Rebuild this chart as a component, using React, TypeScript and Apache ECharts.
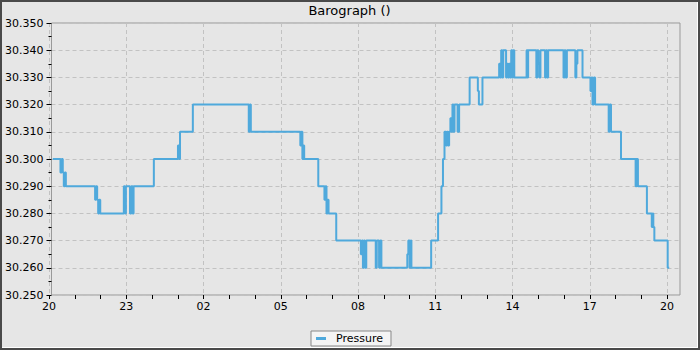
import React, { useEffect, useRef } from "react";
import * as echarts from "echarts";

// Hours elapsed since 20:00 on the first day
const hours = [
  0.05, 0.35, 0.40, 0.44, 0.48, 0.52, 0.56,
  1.70, 1.74, 1.78, 1.82, 1.86, 1.90,
  2.82, 2.86, 2.90, 3.06, 3.11, 3.16, 3.20,
  3.99, 4.93, 4.97, 5.01, 5.51,
  7.69, 7.73, 7.77,
  9.70, 9.74, 9.78, 9.82, 9.85,
  10.40, 10.64, 10.68, 10.72, 10.76, 10.80, 11.10,
  12.06, 12.10, 12.14, 12.18, 12.22, 12.27,
  12.64, 12.68, 12.77, 12.82, 12.86,
  13.87, 13.91, 13.96, 14.00, 14.03,
  14.80, 15.07, 15.20, 15.26, 15.32, 15.38, 15.42, 15.46, 15.50,
  15.55, 15.59, 15.63, 15.67, 15.71, 15.83, 15.89,
  16.30, 16.62, 16.66, 16.80,
  17.45, 17.49, 17.53, 17.57, 17.61,
  17.72, 17.76, 17.80, 17.84, 17.88, 17.92, 17.96, 18.00, 18.04,
  18.52, 18.55, 18.58,
  18.90, 18.94, 18.98, 19.02, 19.06,
  19.24, 19.28, 19.32, 19.36,
  19.96, 20.00, 20.04, 20.09,
  20.42, 20.46, 20.50, 20.70,
  21.01, 21.05, 21.09, 21.14, 21.19,
  21.72, 21.76, 21.81, 22.20,
  22.77, 22.81, 22.86, 23.21,
  23.40, 23.43, 23.46, 23.50,
  24.02, 24.08,
];

// Pressure readings (inHg)
const pressure = [
  30.300, 30.295, 30.300, 30.295, 30.290, 30.295, 30.290,
  30.285, 30.290, 30.285, 30.280, 30.285, 30.280,
  30.290, 30.280, 30.290, 30.280, 30.290, 30.280, 30.290,
  30.300, 30.305, 30.300, 30.310, 30.320,
  30.310, 30.320, 30.310,
  30.305, 30.310, 30.300, 30.305, 30.300,
  30.290, 30.285, 30.290, 30.280, 30.285, 30.280, 30.270,
  30.265, 30.270, 30.260, 30.270, 30.260, 30.270,
  30.260, 30.270, 30.260, 30.270, 30.260,
  30.265, 30.270, 30.260, 30.270, 30.260,
  30.270, 30.280, 30.290, 30.300, 30.310, 30.305, 30.310, 30.305, 30.310,
  30.315, 30.310, 30.320, 30.310, 30.320, 30.310, 30.320,
  30.330, 30.325, 30.320, 30.330,
  30.335, 30.330, 30.340, 30.330, 30.340,
  30.330, 30.335, 30.330, 30.335, 30.330, 30.340, 30.330, 30.340, 30.330,
  30.340, 30.330, 30.340,
  30.330, 30.340, 30.335, 30.330, 30.340,
  30.330, 30.340, 30.330, 30.340,
  30.330, 30.340, 30.330, 30.340,
  30.330, 30.335, 30.340, 30.330,
  30.325, 30.330, 30.320, 30.330, 30.320,
  30.310, 30.320, 30.310, 30.300,
  30.290, 30.300, 30.290, 30.280,
  30.275, 30.280, 30.275, 30.270,
  30.260, 30.260,
];

const hourLabels = ["20", "23", "02", "05", "08", "11", "14", "17", "20"];
const yMin = 30.25;
const yMax = 30.35;
const yStep = 0.01;

const FONT = "DejaVu Sans";
const LINE = "#4fa9dc";

export default function App() {
  const ref = useRef<HTMLDivElement>(null);

  useEffect(() => {
    if (!ref.current) return;
    const chart = echarts.init(ref.current, undefined, { renderer: "svg" });
    const split = { show: true, lineStyle: { color: "#c2c2c2", width: 1, type: [4, 3] as any } };
    chart.setOption({
      animation: false,
      backgroundColor: "#e6e6e6",
      title: {
        text: "Barograph ()",
        left: "center",
        top: 2,
        padding: 0,
        textStyle: { fontFamily: FONT, fontSize: 13, fontWeight: "normal", color: "#000" },
      },
      legend: {
        data: ["Pressure"],
        bottom: 1,
        left: "center",
        icon: "rect",
        itemWidth: 10,
        itemHeight: 3,
        backgroundColor: "#f4f4f4",
        borderColor: "#888",
        borderWidth: 1,
        borderRadius: 0,
        padding: [2, 8, 2, 5],
        textStyle: { fontFamily: FONT, fontSize: 11, color: "#000", padding: [0, 0, 0, 5] },
      },
      grid: [
        { left: 47, top: 21, width: 631, height: 272, show: true, borderColor: "#999", borderWidth: 1, backgroundColor: "transparent" },
        { left: 47, top: 21, width: 618, height: 272, show: false },
      ],
      xAxis: [
        { gridIndex: 0, type: "value", min: 0, max: 24.5, show: false },
        {
          gridIndex: 1,
          type: "value",
          min: 0,
          max: 24,
          interval: 3,
          axisLine: { show: false },
          axisTick: { show: true, length: 4, lineStyle: { color: "#000" } },
          minorTick: { show: true, splitNumber: 3, length: 4, lineStyle: { color: "#000" } },
          minorSplitLine: { show: false },
          axisLabel: {
            fontFamily: FONT,
            fontSize: 11,
            color: "#000",
            margin: 6,
            formatter: (v: number) => {
              const i = Math.round(v / 3);
              return Math.abs(v - i * 3) < 1e-6 ? hourLabels[i] ?? "" : "";
            },
          },
          splitLine: split,
        },
      ],
      yAxis: [
        {
          gridIndex: 0,
          type: "value",
          min: yMin,
          max: yMax,
          interval: yStep,
          axisLine: { show: false },
          axisTick: { show: true, length: 5, lineStyle: { color: "#000" } },
          minorTick: { show: true, splitNumber: 2, length: 3, lineStyle: { color: "#000" } },
          minorSplitLine: { show: false },
          axisLabel: {
            fontFamily: FONT,
            fontSize: 11,
            color: "#000",
            margin: 8,
            formatter: (v: number) => v.toFixed(3),
          },
          splitLine: split,
        },
        { gridIndex: 1, type: "value", min: 0, max: 1, show: false },
      ],
      series: [
        {
          name: "Pressure",
          type: "line",
          xAxisIndex: 0,
          yAxisIndex: 0,
          step: "end",
          showSymbol: false,
          symbol: "none",
          color: LINE,
          itemStyle: { color: LINE },
          lineStyle: { color: LINE, width: 2 },
          data: hours.map((h, i) => [h, pressure[i]]),
        },
      ],
    });
    return () => chart.dispose();
  }, []);

  return (
    <div
      style={{
        position: "fixed",
        left: 0,
        top: 0,
        width: 700,
        height: 350,
        boxSizing: "border-box",
        border: "2px solid #4a4a4a",
        background: "#ffffff",
      }}
    >
      <div ref={ref} style={{ width: 695, height: 345 }} />
    </div>
  );
}
